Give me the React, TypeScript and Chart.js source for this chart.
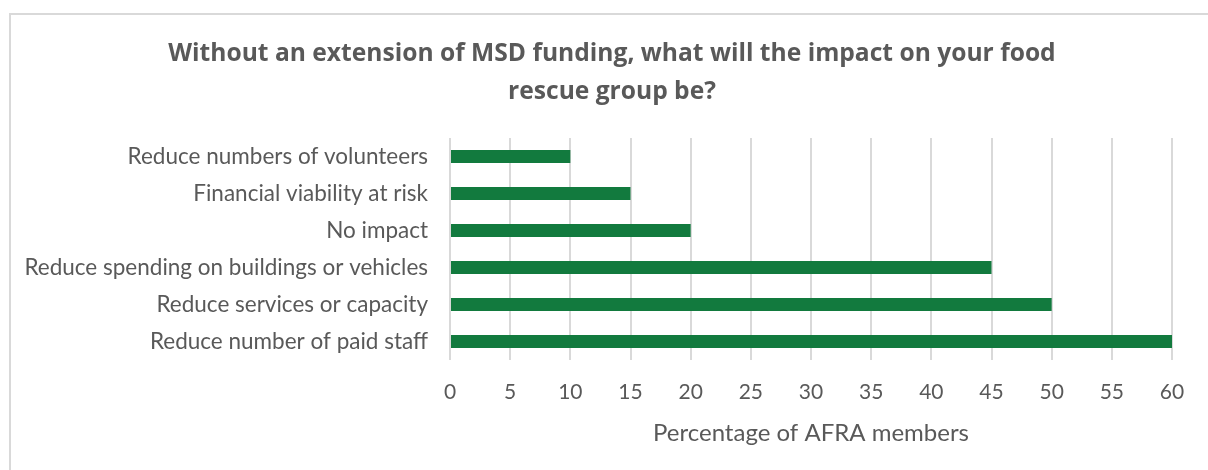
import React, { useEffect, useRef } from "react";
import { Chart, registerables } from "chart.js";

Chart.register(...registerables);

const categories = [
  "Reduce numbers of volunteers",
  "Financial viability at risk",
  "No impact",
  "Reduce spending on buildings or vehicles",
  "Reduce services or capacity",
  "Reduce number of paid staff",
];
const values = [10, 15, 20, 45, 50, 60];
const titleLines = [
  "Without an extension of MSD funding, what will the impact on your food",
  "rescue group be?",
];
const xAxisTitle = "Percentage of AFRA members";

const PAD_LEFT = 16;

const titleShift = {
  id: "titleShift",
  afterLayout(chart: any) {
    const t = chart.titleBlock;
    if (t) {
      t.left = 52;
    }
  },
};

export default function App() {
  const ref = useRef<HTMLCanvasElement | null>(null);
  useEffect(() => {
    if (!ref.current) return;
    const chart = new Chart(ref.current, {
      type: "bar",
      data: {
        labels: categories,
        datasets: [
          {
            data: values,
            backgroundColor: "#127a3e",
            barPercentage: 0.7,
            categoryPercentage: 0.5,
          },
        ],
      },
      plugins: [titleShift],
      options: {
        indexAxis: "y",
        animation: false,
        responsive: false,
        maintainAspectRatio: false,
        layout: { padding: { left: PAD_LEFT, right: 36, top: 0, bottom: 10 } },
        plugins: {
          legend: { display: false },
          tooltip: { enabled: false },
          title: {
            display: true,
            text: titleLines,
            color: "#595959",
            font: { family: "'Open Sans'", size: 24.6, weight: "bold", lineHeight: 38 / 24.6 },
            padding: { top: 35, bottom: 27 },
          },
        },
        scales: {
          x: {
            min: 0,
            max: 60,
            ticks: {
              stepSize: 5,
              color: "#595959",
              font: { family: "Lato", size: 21 },
              padding: 20,
            },
            grid: { color: "#d9d9d9", lineWidth: 2, drawTicks: false },
            border: { display: false },
            title: {
              display: true,
              text: xAxisTitle,
              color: "#595959",
              font: { family: "Lato", size: 24 },
              padding: { top: -6.6, bottom: 12.6 },
            },
          },
          y: {
            ticks: {
              color: "#595959",
              font: { family: "Lato", size: 22.5 },
              padding: 22,
            },
            grid: { display: false, drawTicks: false, tickLength: 0 },
            border: { display: false },
            afterFit: (scale: any) => {
              scale.width = 450 - PAD_LEFT;
            },
          },
        },
      },
    });
    return () => chart.destroy();
  }, []);
  return (
    <div style={{ position: "absolute", left: 0, top: 0, width: 1208, height: 470, overflow: "hidden", background: "#fff" }}>
      <div
        style={{
          position: "absolute",
          left: 9,
          top: 13,
          width: 1300,
          height: 600,
          border: "2px solid #d9d9d9",
          boxSizing: "border-box",
        }}
      />
      <canvas ref={ref} width={1208} height={470} style={{ position: "absolute", left: 0, top: 0 }} />
    </div>
  );
}
